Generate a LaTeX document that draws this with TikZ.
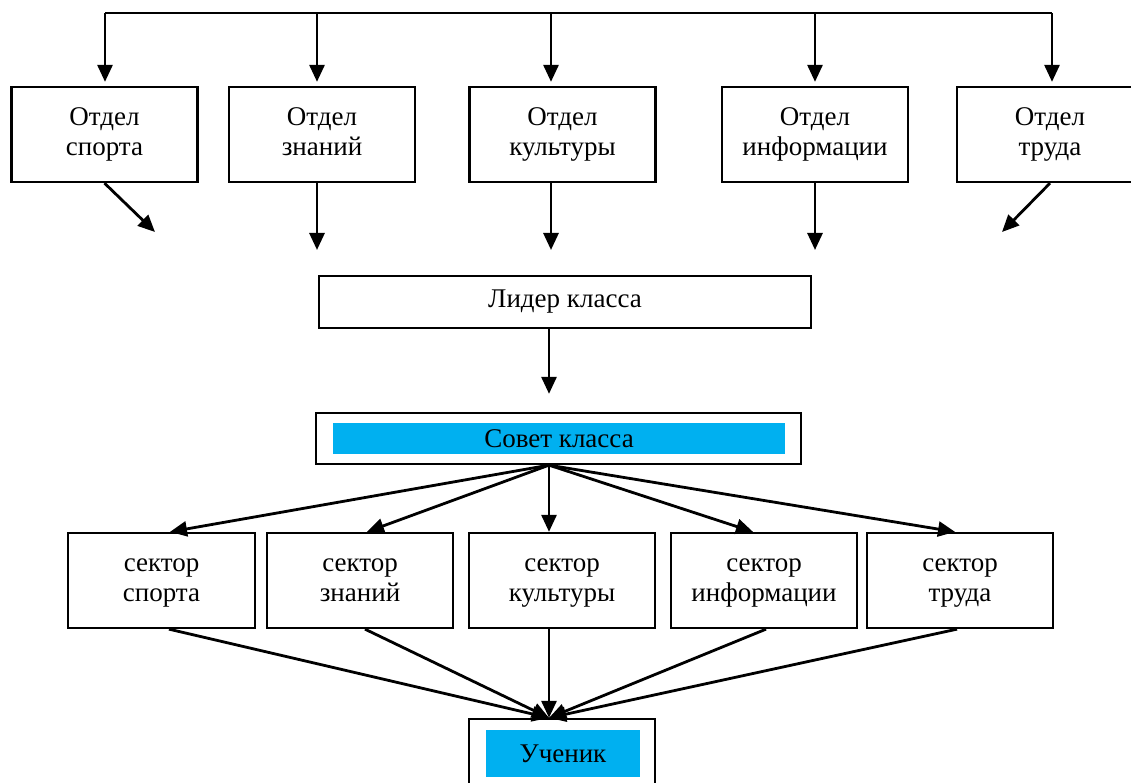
\documentclass[tikz,border=0pt]{standalone}
\usepackage{fontspec}
\setmainfont{Liberation Serif}
\usepackage{xcolor}
\usepackage{tikz}
\usetikzlibrary{arrows.meta,calc,positioning}
\definecolor{goluboy}{HTML}{00B0F0}
\newcommand{\dvestroki}[2]{\strut #1\\\strut #2}
\tikzset{
  otdel/.style={draw=black,line width=2.3pt,minimum width=186pt,minimum height=95pt,align=center,inner sep=0pt},
  ramka/.style={draw=black,line width=2.3pt,inner sep=0pt},
  zalivka/.style={fill=goluboy,inner sep=0pt},
  strelka/.style={line width=2.8pt,-{Triangle[length=17pt,width=15pt]}},
  liniya/.style={line width=2.8pt}
}

\begin{document}
\begin{tikzpicture}[x=1pt,y=-1pt,font=\fontsize{27}{30}\selectfont]
\useasboundingbox (0,0) rectangle (1131,783);
\coordinate (os) at (549,0);
% otdely
\node[otdel] (otdel1) at (104.5,134.5) {\dvestroki{Отдел}{спорта}};
\node[otdel] (otdel2) at (322,134.5) {\dvestroki{Отдел}{знаний}};
\node[otdel] (otdel3) at (562.5,134.5) {\dvestroki{Отдел}{культуры}};
\node[otdel] (otdel4) at (815,134.5) {\dvestroki{Отдел}{информации}};
\node[otdel] (otdel5) at (1050,134.5) {\dvestroki{Отдел}{труда}};
% shina
\coordinate (shina1) at (105,13);
\coordinate (shina2) at (317,13);
\coordinate (shina3) at (551,13);
\coordinate (shina4) at (815,13);
\coordinate (shina5) at (1052,13);
\draw[liniya] (shina1) -- (shina5);
\draw[strelka,shorten >=4pt] (shina1) -- (shina1 |- otdel1.north);
\draw[strelka,shorten >=4pt] (shina2) -- (shina2 |- otdel2.north);
\draw[strelka,shorten >=4pt] (shina3) -- (shina3 |- otdel3.north);
\draw[strelka,shorten >=4pt] (shina4) -- (shina4 |- otdel4.north);
\draw[strelka,shorten >=4pt] (shina5) -- (shina5 |- otdel5.north);
% vniz k lideru
\coordinate (k1) at (155,232);
\coordinate (k2) at (317,250);
\coordinate (k3) at (551,250);
\coordinate (k4) at (815,250);
\coordinate (k5) at (1002,232);
\draw[strelka] (otdel1.south) -- (k1);
\draw[strelka] (k2 |- otdel2.south) -- (k2);
\draw[strelka] (k3 |- otdel3.south) -- (k3);
\draw[strelka] (k4 |- otdel4.south) -- (k4);
\draw[strelka] (otdel5.south) -- (k5);
% lider i sovet
\node[ramka,minimum width=492pt,minimum height=52pt] (lider) at (565,302) {Лидер класса};
\node[ramka,minimum width=485pt,minimum height=51pt] (sovet) at (558.5,438.5) {};
\node[zalivka,minimum width=452pt,minimum height=31pt] (sovettxt) at (559,438.5) {Совет класса};
\draw[strelka,shorten >=18pt] (os |- lider.south) -- (os |- sovet.north);
% sektory
\node[otdel,minimum width=187pt] (sektor1) at (161.5,580.5) {\dvestroki{сектор}{спорта}};
\node[otdel] (sektor2) at (360,580.5) {\dvestroki{сектор}{знаний}};
\node[otdel] (sektor3) at (562,580.5) {\dvestroki{сектор}{культуры}};
\node[otdel] (sektor4) at (764,580.5) {\dvestroki{сектор}{информации}};
\node[otdel] (sektor5) at (960,580.5) {\dvestroki{сектор}{труда}};
\draw[strelka] (os |- sovet.south) -- ([xshift=8.5pt]sektor1.north);
\draw[strelka] (os |- sovet.south) -- ([xshift=7pt]sektor2.north);
\draw[strelka] (os |- sovet.south) -- (os |- sektor3.north);
\draw[strelka] (os |- sovet.south) -- ([xshift=-11pt]sektor4.north);
\draw[strelka] (os |- sovet.south) -- ([xshift=-5pt]sektor5.north);
% uchenik
\node[ramka,minimum width=186pt,minimum height=81pt] (uchenik) at (562,759.5) {};
\node[zalivka,minimum width=154pt,minimum height=47pt] (uchtxt) at (563,753.5) {Ученик};
\draw[strelka] ([xshift=7.5pt]sektor1.south) -- (os |- uchenik.north);
\draw[strelka] ([xshift=5pt]sektor2.south) -- (os |- uchenik.north);
\draw[strelka] (os |- sektor3.south) -- (os |- uchenik.north);
\draw[strelka] ([xshift=2pt]sektor4.south) -- (os |- uchenik.north);
\draw[strelka] ([xshift=-3pt]sektor5.south) -- (os |- uchenik.north);
\end{tikzpicture}
\end{document}
